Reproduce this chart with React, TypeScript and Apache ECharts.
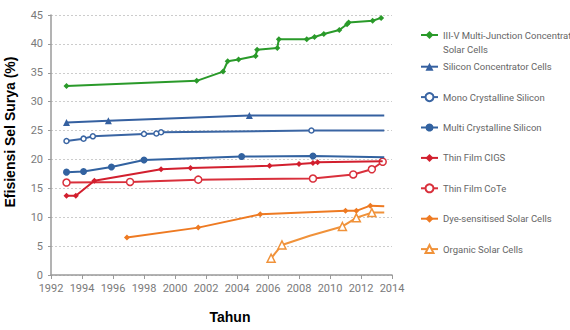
import React, { useEffect, useRef } from "react";
import * as echarts from "echarts";

const seriesNames = [
  "III-V Multi-Junction Concentrator Solar Cells",
  "Silicon Concentrator Cells",
  "Mono Crystalline Silicon",
  "Multi Crystalline Silicon",
  "Thin Film CIGS",
  "Thin Film CoTe",
  "Dye-sensitised Solar Cells",
  "Organic Solar Cells",
];

const iiivYears = [1993, 2001.4, 2003.1, 2003.4, 2004.1, 2005.2, 2005.3, 2006.6, 2006.7, 2008.5, 2009.0, 2009.6, 2010.6, 2011.1, 2011.2, 2012.75, 2013.3];
const iiivValues = [32.7, 33.6, 35.2, 37.0, 37.3, 37.9, 39.0, 39.3, 40.8, 40.8, 41.2, 41.7, 42.4, 43.4, 43.7, 44.0, 44.5];

const siConcYears = [1993, 1995.7, 2004.8, 2013.5];
const siConcValues = [26.4, 26.7, 27.6, 27.6];

const monoYears = [1993, 1994.1, 1994.7, 1998.0, 1998.8, 1999.1, 2008.8, 2013.5];
const monoValues = [23.2, 23.6, 24.0, 24.4, 24.5, 24.7, 25.0, 25.0];

const multiYears = [1993, 1994.1, 1995.9, 1998.0, 2004.3, 2008.9, 2013.5];
const multiValues = [17.8, 17.9, 18.7, 19.9, 20.5, 20.6, 20.4];

const cigsYears = [1993, 1993.6, 1994.8, 1999.1, 2001.0, 2006.1, 2008.0, 2008.9, 2009.2, 2013.4];
const cigsValues = [13.7, 13.7, 16.3, 18.3, 18.5, 18.9, 19.2, 19.4, 19.5, 19.7];

const cdteYears = [1993, 1997.1, 2001.5, 2008.9, 2011.5, 2012.7, 2013.4];
const cdteValues = [16.0, 16.1, 16.5, 16.7, 17.4, 18.3, 19.6];

const dyeYears = [1996.9, 2001.5, 2005.5, 2011.0, 2011.7, 2012.6, 2013.5];
const dyeValues = [6.5, 8.2, 10.5, 11.1, 11.1, 12.0, 11.9];

const organicYears = [2006.2, 2006.9, 2008.7, 2010.8, 2011.7, 2012.7, 2013.5];
const organicValues = [2.9, 5.2, 6.8, 8.4, 9.9, 10.8, 10.8];

const xTicks = { min: 1992, max: 2014, step: 2 };
const yTicks = { min: 0, max: 45, step: 5 };

const allYears = [iiivYears, siConcYears, monoYears, multiYears, cigsYears, cdteYears, dyeYears, organicYears];
const allValues = [iiivValues, siConcValues, monoValues, multiValues, cigsValues, cdteValues, dyeValues, organicValues];

// style config per series
const styles = [
  { color: "#2a9a2a", symbol: "diamond", size: 6, hollow: false, unmarked: [] as number[] },
  { color: "#3560a0", symbol: "triangle", size: 7, hollow: false, unmarked: [3] },
  { color: "#3a65a3", symbol: "circle", size: 5, hollow: true, unmarked: [7] },
  { color: "#3262a0", symbol: "circle", size: 7, hollow: false, unmarked: [6] },
  { color: "#d21f2e", symbol: "diamond", size: 6, hollow: false, unmarked: [9] },
  { color: "#d9303c", symbol: "circle", size: 7, hollow: true, unmarked: [] as number[] },
  { color: "#ee7a22", symbol: "diamond", size: 6, hollow: false, unmarked: [6] },
  { color: "#f0923a", symbol: "triangle", size: 8, hollow: true, unmarked: [2, 6] },
];

const FONT = "Roboto, sans-serif";

export default function App() {
  const ref = useRef<HTMLDivElement>(null);
  useEffect(() => {
    if (!ref.current) return;
    const chart = echarts.init(ref.current, null, { renderer: "svg" });
    const series = seriesNames.map((name, i) => {
      const st = styles[i];
      return {
        name,
        type: "line",
        data: allYears[i].map((y, j) => {
          const item: any = { value: [y, allValues[i][j]] };
          if (st.unmarked.includes(j)) item.symbol = "none";
          return item;
        }),
        symbol: st.symbol,
        symbolSize: st.size,
        showAllSymbol: true,
        lineStyle: { color: st.color, width: 2 },
        itemStyle: {
          color: st.hollow ? "#ffffff" : st.color,
          borderColor: st.color,
          borderWidth: st.hollow ? 1.5 : 0,
        },
        z: 10 - i,
      };
    });
    const legendCommon = {
      orient: "vertical" as const,
      left: 420,
      padding: 0,
      itemWidth: 17,
      itemHeight: 10,
      textStyle: { fontFamily: FONT, fontSize: 9.5, color: "#666666", lineHeight: 14 },
    };
    chart.setOption({
      animation: false,
      backgroundColor: "#ffffff",
      grid: { left: 51, top: 15, right: 178, bottom: 55, containLabel: false, outerBoundsMode: "none" },
      legend: [
        {
          ...legendCommon,
          top: 14,
          data: [seriesNames[0]],
          formatter: () => " \nIII-V Multi-Junction Concentrator\nSolar Cells",
        },
        {
          ...legendCommon,
          top: 59.7,
          itemGap: 16.4,
          data: seriesNames.slice(1),
        },
      ],
      xAxis: {
        type: "value",
        min: xTicks.min,
        max: xTicks.max,
        interval: xTicks.step,
        name: "Tahun",
        nameLocation: "middle",
        nameGap: 35,
        nameTextStyle: {
          fontFamily: "'Liberation Sans', Arial, sans-serif",
          fontWeight: "bold",
          fontSize: 14,
          color: "#000",
          padding: [0, 0, 0, 17],
        },
        axisLine: { show: true, lineStyle: { color: "#9a9a9a", width: 1.5 } },
        axisTick: { show: true, length: 4, lineStyle: { color: "#9a9a9a" } },
        splitLine: { show: false },
        axisLabel: { fontFamily: FONT, fontSize: 11, color: "#7a7a7a", margin: 8, formatter: (v: number) => String(v) },
      },
      yAxis: {
        type: "value",
        min: yTicks.min,
        max: yTicks.max,
        interval: yTicks.step,
        name: "Efisiensi Sel Surya (%)",
        nameLocation: "middle",
        nameGap: 34,
        nameTextStyle: {
          fontFamily: "'Liberation Sans', Arial, sans-serif",
          fontWeight: "bold",
          fontSize: 14,
          color: "#000",
          padding: [0, 0, 0, 26],
        },
        axisLine: { show: true, lineStyle: { color: "#9a9a9a", width: 1.5 } },
        axisTick: { show: true, length: 3, lineStyle: { color: "#9a9a9a" } },
        splitLine: { show: true, lineStyle: { color: "#cccccc", type: [2, 2], width: 1 } },
        axisLabel: { fontFamily: FONT, fontSize: 11, color: "#7a7a7a", margin: 8 },
      },
      series,
    });
    return () => chart.dispose();
  }, []);
  return <div ref={ref} style={{ width: 570, height: 330, position: "absolute", left: 0, top: 0 }} />;
}
